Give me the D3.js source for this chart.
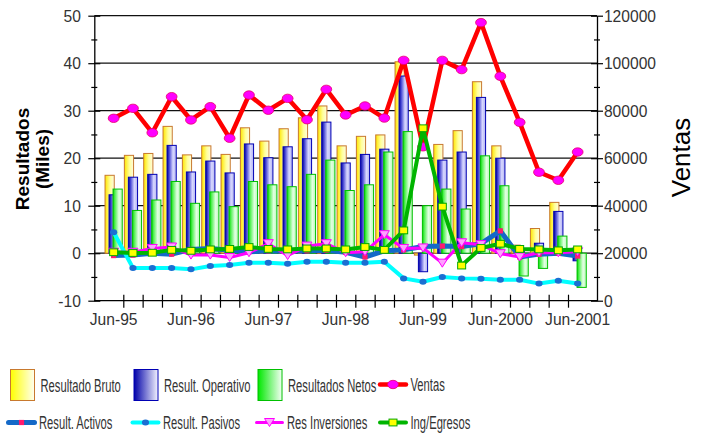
<!DOCTYPE html>
<html lang="es">
<head>
<meta charset="UTF-8" />
<title>Resultados y Ventas</title>
<style>
  * { margin: 0; padding: 0; }
  body { background: #fff; width: 710px; height: 435px; overflow: hidden; }
  svg text { font-family: 'Liberation Sans', Arial, sans-serif; fill: #333; }
</style>
</head>
<body>
<svg id="chart" width="710" height="435"></svg>
<script src="https://cdn.jsdelivr.net/npm/d3@7"></script>
<script>
// quarters, Jun-95 .. Jun-2001
const quarters = ['Jun-95', 'Sep-95', 'Dic-95', 'Mar-96', 'Jun-96', 'Sep-96', 'Dic-96', 'Mar-97',
  'Jun-97', 'Sep-97', 'Dic-97', 'Mar-98', 'Jun-98', 'Sep-98', 'Dic-98', 'Mar-99', 'Jun-99',
  'Sep-99', 'Dic-99', 'Mar-2000', 'Jun-2000', 'Sep-2000', 'Dic-2000', 'Mar-2001', 'Jun-2001'];
const xLabels = ['Jun-95', 'Jun-96', 'Jun-97', 'Jun-98', 'Jun-99', 'Jun-2000', 'Jun-2001'];

// left axis (miles)
const bruto = [16.4, 20.6, 21.0, 26.7, 20.7, 22.6, 20.8, 26.4, 23.6, 26.2, 28.5, 31.0, 22.6,
  24.6, 24.9, 40.3, -0.4, 22.9, 25.8, 36.1, 22.6, 1.7, 5.2, 10.7, 0.2];
const operativo = [12.3, 16.0, 16.6, 22.7, 17.1, 19.4, 16.9, 23.0, 20.1, 22.4, 24.1, 27.6, 19.0,
  20.8, 21.9, 37.3, -3.9, 19.6, 21.3, 32.8, 20.0, 0.8, 2.1, 8.8, -1.6];
const netos = [13.5, 9.0, 11.2, 15.1, 10.5, 12.9, 9.8, 15.1, 14.4, 14.0, 16.6, 19.6, 13.2,
  14.4, 21.3, 25.6, 10.0, 13.5, 9.3, 20.5, 14.2, -4.8, -3.2, 3.6, -7.2];
const activos = [-0.5, -0.4, 0.0, -0.2, 0.8, 1.0, 0.6, 0.3, 0.5, 0.4, 0.5, 0.6, 0.2,
  -0.8, 0.5, 0.7, 1.4, 1.5, 1.4, 2.0, 4.7, -0.8, -0.2, 0.0, -0.6];
const pasivos = [4.4, -3.1, -3.1, -3.1, -3.4, -2.7, -2.5, -2.0, -2.0, -2.2, -1.8, -1.8, -2.0,
  -2.0, -1.8, -5.3, -6.0, -5.0, -5.3, -5.4, -5.6, -5.6, -6.4, -5.8, -6.4];
const inversiones = [0.2, 0.2, 1.0, 1.3, -0.4, -0.4, -0.9, 0.1, 2.0, -0.5, 1.5, 2.0, 0.1,
  0.3, 3.9, 1.0, 1.1, -2.1, 2.2, 1.8, -0.1, -0.8, 0.1, 0.1, 0.3];
const ingresos = [0.2, 0.05, 0.1, 0.7, 0.5, 0.8, 0.9, 1.3, 0.9, 0.8, 1.0, 1.0, 0.8,
  1.3, 0.7, 4.8, 26.3, 9.8, -2.6, 1.1, 2.0, 0.9, 0.8, 0.6, 0.8];
// right axis
const ventas = [76800, 81000, 70700, 85900, 76100, 81700, 68400, 86600, 80200, 85200, 76200,
  89000, 78200, 82000, 76900, 101200, 64800, 101200, 97300, 117100, 94500, 75100, 54100,
  50700, 62600];

const leftTicks = d3.range(-10, 51, 5);
const rightTicks = d3.range(0, 120001, 10000);

const plot = { left: 94.3, right: 597, top: 15.7, bottom: 300.7 };
const svg = d3.select('#chart');

const x = d3.scaleBand().domain(quarters).range([plot.left, plot.right])
  .paddingInner(0).paddingOuter(0.5);
const cx = q => x(q) + x.bandwidth() / 2;
const yL = d3.scaleLinear().domain([-10, 50]).range([plot.bottom, plot.top]);
const yR = d3.scaleLinear().domain([0, 120000]).range([plot.bottom, plot.top]);

// gradients
const defs = svg.append('defs');
function grad(id, stops) {
  const g = defs.append('linearGradient').attr('id', id)
    .attr('x1', 0).attr('x2', 1).attr('y1', 0).attr('y2', 0);
  stops.forEach(s => g.append('stop').attr('offset', s[0]).attr('stop-color', s[1]));
}
grad('gBruto', [[0, '#ffe600'], [0.55, '#ffff9a'], [1, '#fffbe0']]);
grad('gOper', [[0, '#00008c'], [0.2, '#3a3ad0'], [0.65, '#d8d8ff'], [1, '#b4b4f0']]);
grad('gNetos', [[0, '#00d800'], [0.2, '#50f050'], [0.65, '#e4ffe4'], [1, '#b8f8b8']]);
grad('lBruto', [[0, '#ffff00'], [1, '#fffff0']]);
grad('lOper', [[0, '#0000a8'], [1, '#f4f4ff']]);
grad('lNetos', [[0, '#00e800'], [1, '#f4fff4']]);

// grid
svg.append('g').selectAll('line').data(d3.range(0, 51, 10)).join('line')
  .attr('x1', plot.left).attr('x2', plot.right)
  .attr('y1', d => yL(d)).attr('y2', d => yL(d))
  .attr('stroke', '#111').attr('stroke-width', 1.2);

// bars
const barW = 9.2;
const barSeries = [
  { vals: bruto, off: -8.6, fill: 'url(#gBruto)', stroke: '#c8792e' },
  { vals: operativo, off: -4.6, fill: 'url(#gOper)', stroke: '#0000b4' },
  { vals: netos, off: -0.6, fill: 'url(#gNetos)', stroke: '#00c000' }
];
barSeries.forEach(s => {
  svg.append('g').selectAll('rect').data(quarters).join('rect')
    .attr('x', (q, i) => cx(q) + s.off)
    .attr('y', (q, i) => yL(Math.max(0, s.vals[i])))
    .attr('width', barW)
    .attr('height', (q, i) => Math.abs(yL(s.vals[i]) - yL(0)))
    .attr('fill', s.fill).attr('stroke', s.stroke).attr('stroke-width', 1);
});

// axes
const fontTick = 17;
const axL = svg.append('g').attr('transform', `translate(${plot.left},0)`)
  .call(d3.axisLeft(yL).tickValues(leftTicks).tickSizeOuter(0)
    .tickFormat(d => d % 10 === 0 ? d : ''));
axL.attr('font-family', null).attr('font-size', null);
axL.select('.domain').attr('stroke', '#000').attr('stroke-width', 1.3);
axL.selectAll('.tick line').attr('stroke', '#000').attr('stroke-width', 1.2)
  .attr('x1', d => d % 10 === 0 ? 6 : 3).attr('x2', d => d % 10 === 0 ? -6 : -3);
axL.selectAll('.tick text').attr('x', -14.5).attr('font-size', fontTick)
  .attr('transform', 'scale(0.92,1)').style('fill', '#333');

const axR = svg.append('g').attr('transform', `translate(${plot.right},0)`)
  .call(d3.axisRight(yR).tickValues(rightTicks).tickSizeOuter(0)
    .tickFormat(d => d % 20000 === 0 ? d3.format('d')(d) : ''));
axR.attr('font-family', null).attr('font-size', null);
axR.select('.domain').attr('stroke', '#000').attr('stroke-width', 1.3);
axR.selectAll('.tick line').attr('stroke', '#000').attr('stroke-width', 1.2)
  .attr('x1', d => d % 20000 === 0 ? -6 : -3).attr('x2', d => d % 20000 === 0 ? 6 : 3);
axR.selectAll('.tick text').attr('x', 7.5).attr('font-size', fontTick)
  .attr('transform', 'scale(0.92,1)').style('fill', '#333');

// bottom axis: ticks on quarter boundaries
const xi = d3.scaleLinear().domain([0, quarters.length])
  .range([x(quarters[0]), x(quarters[0]) + quarters.length * x.step()]);
const axB = svg.append('g').attr('transform', `translate(0,${plot.bottom})`)
  .call(d3.axisBottom(xi).tickValues(d3.range(1, quarters.length)).tickFormat('').tickSizeOuter(0));
axB.select('.domain').remove();
axB.selectAll('.tick line').attr('stroke', '#000').attr('stroke-width', 1.2)
  .attr('y1', -6).attr('y2', 7);
svg.append('line').attr('x1', plot.left).attr('x2', plot.right)
  .attr('y1', plot.bottom).attr('y2', plot.bottom).attr('stroke', '#000').attr('stroke-width', 1.3);

const axBL = svg.append('g').attr('transform', `translate(0,${plot.bottom})`)
  .call(d3.axisBottom(x).tickValues(xLabels).tickSize(0));
axBL.attr('font-family', null).attr('font-size', null);
axBL.select('.domain').remove();
axBL.selectAll('.tick text').attr('y', 12).attr('dy', '0.71em').attr('font-size', fontTick)
  .attr('transform', 'scale(0.92,1)').style('fill', '#333');

// lines
function drawLine(vals, scale, color, width) {
  const line = d3.line().x((v, i) => cx(quarters[i])).y(v => scale(v));
  svg.append('path').datum(vals).attr('d', line).attr('fill', 'none')
    .attr('stroke', color).attr('stroke-width', width).attr('stroke-linejoin', 'round');
}
function pts(vals, scale) {
  return svg.append('g').selectAll('g').data(vals).join('g')
    .attr('transform', (v, i) => `translate(${cx(quarters[i])},${scale(v)})`);
}
const markers = {
  ventas: g => g.append('ellipse').attr('rx', 5.4).attr('ry', 4.2)
    .attr('fill', '#ff00ff').attr('stroke', '#e8006a').attr('stroke-width', 0.8),
  activos: g => g.append('rect').attr('x', -2.6).attr('y', -2.6).attr('width', 5.2).attr('height', 5.2)
    .attr('fill', '#ff1a6e'),
  pasivos: g => g.append('ellipse').attr('rx', 3.6).attr('ry', 3)
    .attr('fill', '#1b6fd2'),
  inversiones: g => g.append('path').attr('d', 'M-5,-4L5,-4L0,4Z')
    .attr('fill', '#ffa0ff').attr('stroke', '#ff00ff').attr('stroke-width', 1),
  ingresos: g => g.append('rect').attr('x', -4).attr('y', -3.4).attr('width', 8).attr('height', 6.8)
    .attr('fill', '#ffff00').attr('stroke', '#00a800').attr('stroke-width', 1)
};

drawLine(ventas, yR, '#ff0000', 4.5);
markers.ventas(pts(ventas, yR));
drawLine(activos, yL, '#1469c8', 5);
markers.activos(pts(activos, yL));
drawLine(pasivos, yL, '#00ffff', 4);
markers.pasivos(pts(pasivos, yL));
drawLine(inversiones, yL, '#ff00ff', 3);
markers.inversiones(pts(inversiones, yL));
drawLine(ingresos, yL, '#00b400', 4);
markers.ingresos(pts(ingresos, yL));

// axis titles
const tl = svg.append('text').attr('transform', 'translate(0,159) rotate(-90)')
  .attr('text-anchor', 'middle').attr('font-weight', 'bold').attr('font-size', 19).style('fill', '#000');
tl.append('tspan').attr('x', 0).attr('y', 28.5).text('Resultados');
tl.append('tspan').attr('x', 0).attr('y', 49).text('(Miles)');
svg.append('text').attr('transform', 'translate(690,157.5) rotate(-90)')
  .attr('text-anchor', 'middle').attr('font-size', 26).style('fill', '#000').text('Ventas');

// legend
const legend = [
  { name: 'Resultado Bruto', type: 'box', fill: 'url(#lBruto)', stroke: '#c8792e', x: 10, y: 385 },
  { name: 'Result. Operativo', type: 'box', fill: 'url(#lOper)', stroke: '#0000b4', x: 133.5, y: 385 },
  { name: 'Resultados Netos', type: 'box', fill: 'url(#lNetos)', stroke: '#00c000', x: 257.5, y: 385 },
  { name: 'Ventas', type: 'line', color: '#ff0000', w: 4.5, m: 'ventas', x: 380, y: 384.5 },
  { name: 'Result. Activos', type: 'line', color: '#1469c8', w: 5, m: 'activos', x: 8.5, y: 422.5 },
  { name: 'Result. Pasivos', type: 'line', color: '#00ffff', w: 4, m: 'pasivos', x: 132.5, y: 422.5 },
  { name: 'Res Inversiones', type: 'line', color: '#ff00ff', w: 3, m: 'inversiones', x: 256.5, y: 422.5 },
  { name: 'Ing/Egresos', type: 'line', color: '#00b400', w: 4, m: 'ingresos', x: 380, y: 422.5 }
];
legend.forEach(l => {
  const g = svg.append('g').attr('transform', `translate(${l.x},${l.y})`);
  if (l.type === 'box') {
    g.append('rect').attr('x', 0.5).attr('y', -15.5).attr('width', 24).attr('height', 31)
      .attr('fill', l.fill).attr('stroke', l.stroke).attr('stroke-width', 1);
  } else {
    g.append('line').attr('x1', 0).attr('x2', 26).attr('stroke', l.color)
      .attr('stroke-width', l.w).attr('stroke-linecap', 'round');
    markers[l.m](g.append('g').attr('transform', 'translate(13,0)'));
  }
  g.append('text').attr('transform', 'translate(30.5,6.5) scale(0.64,1)')
    .attr('font-size', 17.5).style('fill', '#333').text(l.name);
});
</script>
</body>
</html>
